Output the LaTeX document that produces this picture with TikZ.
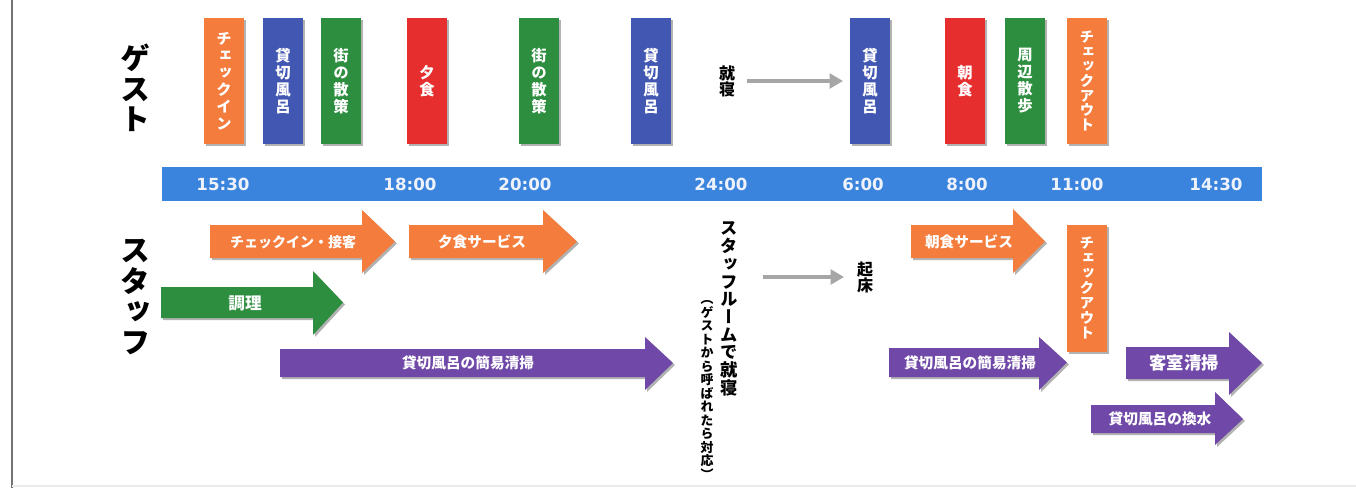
\documentclass[tikz,border=0pt]{standalone}
\usepackage{fontspec}
\setmainfont{DejaVu Sans}
\newfontfamily\jp{Noto Sans CJK JP}
\newfontfamily\vjp{Noto Sans CJK JP}[RawFeature=+vert]
\usetikzlibrary{arrows.meta,shadows}
\definecolor{cOr}{HTML}{F47C3C}
\definecolor{cBl}{HTML}{4257B2}
\definecolor{cGr}{HTML}{2D8E3F}
\definecolor{cRd}{HTML}{E62E2E}
\definecolor{cPu}{HTML}{7049A8}
\definecolor{cTl}{HTML}{3A84DE}
\definecolor{cTime}{HTML}{EEF2FA}
\definecolor{cGray}{HTML}{A6A6A6}
\tikzset{
  shad/.style={drop shadow={shadow xshift=1.5pt,shadow yshift=-1.5pt,opacity=0.3,fill=black}},
  gblock/.style={shad,inner sep=0pt,minimum width=30pt,minimum height=94.5pt,text=white,align=center,
    font=\vjp\bfseries\fontsize{11.5}{12.75}\selectfont},
  sblock/.style={gblock,minimum height=95pt,font=\vjp\bfseries\fontsize{11}{11.25}\selectfont},
  alabel/.style={text=white,inner sep=0pt,font=\jp\bfseries\fontsize{11}{12}\selectfont},
  timelbl/.style={text=cTime,inner sep=0pt,font=\bfseries\fontsize{12.5}{14}\selectfont},
  bigv/.style={align=center,inner sep=0pt,font=\vjp\bfseries\fontsize{22.5}{23}\selectfont},
  blackv/.style={align=center,inner sep=0pt,font=\vjp\bfseries\fontsize{12}{12}\selectfont},
  grayarrow/.style={draw=cGray,line width=2.4pt,-{Triangle[length=10pt,width=11pt]}},
}
% color, x start, head start, tip, body top, body bottom, head top, head bottom
\newcommand\barrow[8]{%
  \fill[#1,shad] (#2,#5) -- (#3,#5) -- (#3,#7) -- (#4,{(#5+#6)/2}) -- (#3,#8) -- (#3,#6) -- (#2,#6) -- cycle;}
\begin{document}
\begin{tikzpicture}[x=0.75pt,y=-0.75pt]
\useasboundingbox[fill=white] (0,0) rectangle (1356,489);
% frame lines
\draw[line width=1.2pt,color=black!55] (12,0) -- (12,488);
\draw[line width=0.8pt,color=black!8] (12,486) -- (1356,486);

% row titles
\node[bigv] (guest) at (135,88) {ゲ\\ス\\ト};
\node[bigv] (staff) at (135,297) {ス\\タ\\ッ\\フ};

% guest blocks
\node[gblock,fill=cOr] (g1) at (224,81) {チ\\ェ\\ッ\\ク\\イ\\ン};
\node[gblock,fill=cBl] (g2) at (283,81) {貸\\切\\風\\呂};
\node[gblock,fill=cGr] (g3) at (341,81) {街\\の\\散\\策};
\node[gblock,fill=cRd] (g4) at (427,81) {夕\\食};
\node[gblock,fill=cGr] (g5) at (539,81) {街\\の\\散\\策};
\node[gblock,fill=cBl] (g6) at (651,81) {貸\\切\\風\\呂};
\node[blackv] (sleep) at (727,81) {就\\寝};
\node[gblock,fill=cBl] (g7) at (870,81) {貸\\切\\風\\呂};
\node[gblock,fill=cRd] (g8) at (965,81) {朝\\食};
\node[gblock,fill=cGr] (g9) at (1025,81) {周\\辺\\散\\歩};
\node[gblock,fill=cOr,font=\vjp\bfseries\fontsize{11}{11}\selectfont] (g10) at (1087,81) {チ\\ェ\\ッ\\ク\\ア\\ウ\\ト};
\coordinate (s1a) at (747,81);
\coordinate (s1b) at (843,81);
\draw[grayarrow] (s1a) -- (s1b);

% timeline
\node[fill=cTl,inner sep=0pt,minimum width=825pt,minimum height=25.5pt,anchor=north west] (tl) at (162,167) {};
\node[timelbl] (t1) at (223,184) {15:30};
\node[timelbl] (t2) at (410,184) {18:00};
\node[timelbl] (t3) at (525,184) {20:00};
\node[timelbl] (t4) at (721,184) {24:00};
\node[timelbl] (t5) at (863,184) {6:00};
\node[timelbl] (t6) at (967,184) {8:00};
\node[timelbl] (t7) at (1077,184) {11:00};
\node[timelbl] (t8) at (1216,184) {14:30};

% staff arrows
\barrow{cOr}{210}{362}{395}{225}{258}{210}{273}
\node[alabel,font=\jp\bfseries\fontsize{10.5}{12}\selectfont] (a1) at (293,242) {チェックイン・接客};
\barrow{cOr}{409}{543}{577}{225}{258}{210}{273}
\node[alabel] (a2) at (482,242) {夕食サービス};
\barrow{cGr}{161}{313}{343}{287}{318}{271}{335}
\node[alabel,font=\jp\bfseries\fontsize{12.5}{14}\selectfont] (a3) at (245,303) {調理};
\barrow{cPu}{280}{645}{673}{349}{377}{337}{390}
\node[alabel] (a4) at (468,363) {貸切風呂の簡易清掃};
\barrow{cOr}{911}{1013}{1045}{225}{258}{209}{273}
\node[alabel] (a5) at (969,242) {朝食サービス};
\barrow{cPu}{889}{1039}{1067}{348}{377}{337}{390}
\node[alabel] (a6) at (970,363) {貸切風呂の簡易清掃};
\barrow{cPu}{1126}{1229}{1262}{347}{379}{332}{395}
\node[alabel,font=\jp\bfseries\fontsize{13}{14}\selectfont] (a7) at (1184,363) {客室清掃};
\barrow{cPu}{1091}{1215}{1243}{405}{433}{392}{445}
\node[alabel] (a8) at (1160,419) {貸切風呂の換水};

% staff checkout block
\node[sblock,fill=cOr,minimum height=95.25pt] (s10) at (1087,288) {チ\\ェ\\ッ\\ク\\ア\\ウ\\ト};

% staff sleep
\node[blackv,font=\vjp\bfseries\fontsize{13}{13.3}\selectfont] (ssleep) at (729,309) {ス\\タ\\ッ\\フ\\ル\\ー\\ム\\で\\就\\寝};
\node[blackv,font=\vjp\bfseries\fontsize{9.7}{10.1}\selectfont] (snote) at (707,390) {（\\ゲ\\ス\\ト\\か\\ら\\呼\\ば\\れ\\た\\ら\\対\\応\\）};
\node[blackv] (wake) at (865,277) {起\\床};
\coordinate (s2a) at (763,277);
\coordinate (s2b) at (844,277);
\draw[grayarrow] (s2a) -- (s2b);
\end{tikzpicture}
\end{document}
